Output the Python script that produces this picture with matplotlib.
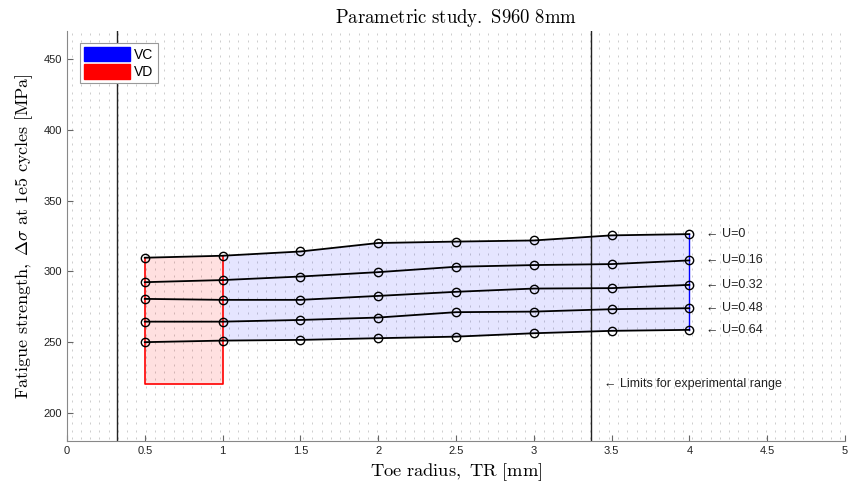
import numpy as np
import matplotlib
matplotlib.use('Agg')
import matplotlib.pyplot as plt
from matplotlib.patches import Patch

# ---------------------------------------------------------------------------
# Data
# ---------------------------------------------------------------------------
toe_radius = [0.5, 1.0, 1.5, 2.0, 2.5, 3.0, 3.5, 4.0]
u_labels = ['U=0', 'U=0.16', 'U=0.32', 'U=0.48', 'U=0.64']
s_u000 = [309.6, 311.0, 314.0, 320.0, 321.0, 321.8, 325.4, 326.3]
s_u016 = [292.3, 293.8, 296.3, 299.4, 303.2, 304.4, 305.1, 307.7]
s_u032 = [280.5, 279.8, 279.8, 282.6, 285.5, 287.8, 288.1, 290.4]
s_u048 = [264.4, 264.4, 265.6, 267.3, 271.1, 271.5, 273.2, 273.9]
s_u064 = [249.9, 251.0, 251.5, 252.7, 253.8, 256.2, 257.9, 258.6]
vd_bottom = 220.3
exp_limits = [0.32, 3.37]

curves = [s_u000, s_u016, s_u032, s_u048, s_u064]

plt.rcParams['mathtext.fontset'] = 'cm'
plt.rcParams['font.family'] = ['Liberation Sans', 'DejaVu Sans']

fig = plt.figure(figsize=(8.5, 4.82), dpi=100, facecolor='white')
ax = fig.add_axes([0.0788, 0.085, 0.9152, 0.851])

# background texture (faint field of small specks)
gx, gy = np.meshgrid(np.linspace(0.03, 4.97, 84), np.linspace(182, 468, 56))
ax.scatter(gx.ravel(), gy.ravel(), marker='|', s=3, color='#cdcdcd',
           linewidths=0.7, zorder=0)

x = np.array(toe_radius)
top = np.array(s_u000)
bot = np.array(s_u064)

# VC region (blue) from TR=1 to TR=4
m = x >= 1.0
ax.fill_between(x[m], bot[m], top[m], color='#0000ff', alpha=0.1,
                linewidth=0, zorder=1)
ax.plot([x[-1], x[-1]], [bot[-1], top[-1]], color='#0000ff', lw=1.0, zorder=2)

# VD region (red) from TR=0.5 to TR=1
m2 = x <= 1.0
ax.fill_between(x[m2], vd_bottom, top[m2], color='#ff0000', alpha=0.12,
                linewidth=0, zorder=1)
ax.plot([x[0], x[0], x[1], x[1]], [top[0], vd_bottom, vd_bottom, top[1]],
        color='#ff0000', lw=1.2, zorder=2)

for ys, lab in zip(curves, u_labels):
    ax.plot(x, ys, color='black', lw=1.3, marker='o', markersize=6,
            markerfacecolor='none', markeredgecolor='black',
            markeredgewidth=1.0, zorder=3)
    ax.text(x[-1] + 0.11, ys[-1], '\u2190 ' + lab, fontsize=9,
            va='center', ha='left', color='#222222')

for xv in exp_limits:
    ax.axvline(xv, color='#222222', lw=1.0, zorder=2)
ax.text(exp_limits[1] + 0.08, vd_bottom, '\u2190 Limits for experimental range',
        fontsize=9, va='center', ha='left', color='#222222')

ax.set_xlim(0, 5)
ax.set_ylim(180, 470)
ax.set_xticks(np.arange(0, 5.01, 0.5))
ax.set_xticklabels(['0', '0.5', '1', '1.5', '2', '2.5', '3', '3.5', '4', '4.5', '5'])
ax.set_yticks([200, 250, 300, 350, 400, 450])
ax.tick_params(direction='in', labelsize=8, length=4, color='#666666',
               labelcolor='#222222')
for side in ['top', 'right']:
    ax.spines[side].set_visible(False)
for side in ['left', 'bottom']:
    ax.spines[side].set_color('#888888')

ax.set_title(r'$\mathrm{Parametric\ study.\ S960\ 8mm}$', fontsize=13.5, pad=6)
ax.set_xlabel(r'$\mathrm{Toe\ radius,\ TR\ [mm]}$', fontsize=13.3, labelpad=4)
ax.set_ylabel(r'$\mathrm{Fatigue\ strength,}\ \Delta\sigma\ \mathrm{at\ 1e5\ cycles\ [MPa]}$',
              fontsize=13, labelpad=6)

handles = [Patch(facecolor='#0000ff', edgecolor='#0000ff', label='VC'),
           Patch(facecolor='#ff0000', edgecolor='#ff0000', label='VD')]
leg = ax.legend(handles=handles, loc='upper left', fontsize=10,
                bbox_to_anchor=(0.017, 0.971), fancybox=False, framealpha=1,
                edgecolor='#999999', handlelength=3.3, handleheight=1.2,
                handletextpad=0.3, borderpad=0.3, labelspacing=0.2,
                borderaxespad=0)
leg.get_frame().set_linewidth(0.8)

fig.savefig('out.png', dpi=100, facecolor='white')
